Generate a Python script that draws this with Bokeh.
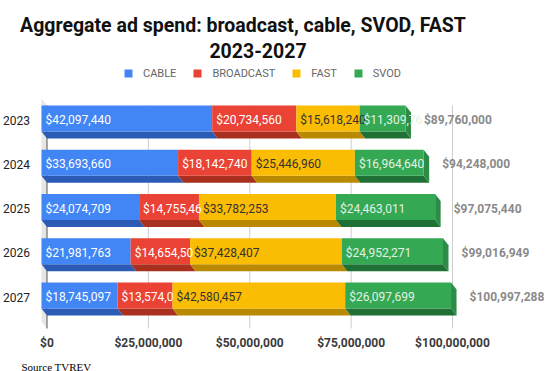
from bokeh.plotting import figure
from bokeh.models import Range1d, Legend, LegendItem, ColumnDataSource
from bokeh.core.properties import value
from bokeh.embed import file_html
from bokeh.resources import INLINE

# ---------------- data ----------------
years = ["2023", "2024", "2025", "2026", "2027"]
series_names = ["CABLE", "BROADCAST", "FAST", "SVOD"]
cable = [42097440, 33693660, 24074709, 21981763, 18745097]
broadcast = [20734560, 18142740, 14755467, 14654508, 13574035]
fast = [15618240, 25446960, 33782253, 37428407, 42580457]
svod = [11309760, 16964640, 24463011, 24952271, 26097699]
totals = [89760000, 94248000, 97075440, 99016949, 100997288]
x_ticks = [0, 25000000, 50000000, 75000000, 100000000]
title_lines = ["Aggregate ad spend: broadcast, cable, SVOD, FAST", "2023-2027"]
source_text = "Source TVREV"

# ---------------- style / layout ----------------
front_col = ["#4285F4", "#EA4335", "#FBBC04", "#34A853"]
bottom_col = ["#2B5BB5", "#A9301F", "#B98A00", "#1F7035"]
side_col = "#2C8C47"
label_col = ["#FFFFFF", "#FFFFFF", "#333333", "#FFFFFF"]
FONT = "Roboto"

W, H = 550, 371             # figure == frame (px)
PXM = 4.055                 # px per million dollars
ZERO_PX = 46.5              # px of $0
X0 = -ZERO_PX / PXM * 1e6
X1 = X0 + W / PXM * 1e6
DXP, DYP = 5.5, 7.0         # 3D depth offset (px)
DX = DXP / PXM * 1e6

ROW0, ROWSTEP, BARH = 105.0, 44.25, 26.0  # front-face top of first row (px, downward)
PLOT_TOP, PLOT_BOT = 98.0, 328.0          # front-top / back-bottom of the plot box


def fx(px):
    return X0 + px / PXM * 1e6


p = figure(width=W, height=H, x_range=Range1d(X0, X1), y_range=Range1d(H, 0),
           output_backend="svg", toolbar_location=None, title=None,
           x_axis_location=None, y_axis_location=None,
           min_border_left=0, min_border_right=0, min_border_top=0, min_border_bottom=0)
p.xgrid.visible = False
p.ygrid.visible = False
p.outline_line_color = None
p.background_fill_color = "white"
p.border_fill_color = "white"

# side wall (3D)
p.patch(x=[-DX, 0, 0, -DX], y=[PLOT_TOP, PLOT_TOP + DYP, PLOT_BOT, PLOT_BOT - DYP],
        fill_color="#E6E6E6", line_color=None)

# gridlines on the back plane
gl_col = ["#555555" if t == 0 else "#CCCCCC" for t in x_ticks]
p.segment(x0=x_ticks, x1=x_ticks, y0=[PLOT_TOP + DYP] * len(x_ticks), y1=[PLOT_BOT] * len(x_ticks),
          line_color=gl_col, line_width=1)

# x tick labels (through the x scale)
p.text(x=x_ticks, y=[342] * len(x_ticks), text=["${:,}".format(t) for t in x_ticks],
       text_font=value(FONT), text_font_size="12px", text_font_style="bold",
       text_color="#3A3A3A", text_align="center", text_baseline="middle")

# stacked bars
series = [cable, broadcast, fast, svod]
n = len(years)
front_top = [ROW0 + ROWSTEP * i for i in range(n)]
front_bot = [t + BARH for t in front_top]
front_mid = [t + BARH / 2 for t in front_top]

starts = [[0] * n]
for s in series[:-1]:
    starts.append([a + b for a, b in zip(starts[-1], s)])
ends = [[a + b for a, b in zip(st, s)] for st, s in zip(starts, series)]


def char_w(c):
    return 2.36 if c == "," else 6.74


def fit_label(v, avail):
    s = "${:,}".format(v)
    out, w = "", 0.0
    for c in s:
        w += char_w(c)
        if w > avail:
            break
        out += c
    return out


for k, s in enumerate(series):
    xs, ys = [], []
    for i in range(n):
        a, b = starts[k][i], ends[k][i]
        xs.append([a - DX, b - DX, b, a])
        ys.append([front_bot[i], front_bot[i], front_bot[i] + DYP, front_bot[i] + DYP])
    p.patches(xs=xs, ys=ys, fill_color=bottom_col[k], line_color=None)

# right side face of the whole bar
sx, sy = [], []
for i in range(n):
    b = ends[-1][i]
    sx.append([b - DX, b, b, b - DX])
    sy.append([front_top[i], front_top[i] + DYP, front_bot[i] + DYP, front_bot[i]])
p.patches(xs=sx, ys=sy, fill_color=side_col, line_color=None)

renderers = []
for k, s in enumerate(series):
    src = ColumnDataSource(dict(y=front_mid, left=[a - DX for a in starts[k]],
                                right=[b - DX for b in ends[k]]))
    r = p.hbar(y="y", height=BARH, left="left", right="right", source=src,
               fill_color=front_col[k], line_color=None)
    renderers.append(r)

# value labels
for k, s in enumerate(series):
    last = k == len(series) - 1
    pad = 14 if last else 3
    labels = [fit_label(v, v / 1e6 * PXM + pad) for v in s]
    p.text(x=starts[k], y=[m + 1.5 for m in front_mid], text=labels, x_offset=-DXP + 4,
           text_font=value(FONT), text_font_size="12px",
           text_color="#E3F2E6" if last else label_col[k],
           text_align="left", text_baseline="middle")

# total labels
p.text(x=totals, y=[m + 1.5 for m in front_mid], text=["${:,}".format(t) for t in totals],
       x_offset=13, text_font=value(FONT), text_font_size="12px", text_font_style="bold",
       text_color="#8A8A8A", text_align="left", text_baseline="middle")

# year labels
p.text(x=[0] * n, y=[m + 1.5 for m in front_mid], text=years, x_offset=-17,
       text_font=value(FONT), text_font_size="12px", text_color="#222222",
       text_align="right", text_baseline="middle")

# title (two lines)
p.text(x=[fx(242.5), fx(257.5)], y=[25, 50], text=title_lines, text_font=value(FONT),
       text_font_size="19.5px", text_font_style="bold", text_color="#111111",
       text_align="center", text_baseline="alphabetic")

# source
p.text(x=[fx(21)], y=[366], text=[source_text], text_font=value("Liberation Serif"),
       text_font_size="11px", text_color="#000000", text_align="left",
       text_baseline="alphabetic")

# legend
legend = Legend(items=[LegendItem(label=nm, renderers=[r]) for nm, r in zip(series_names, renderers)],
                orientation="horizontal", location=(123, H - 79.5),
                glyph_width=10, glyph_height=10, label_height=10, label_standoff=10,
                spacing=16, padding=0, margin=0, border_line_color=None,
                background_fill_alpha=0, label_text_font=FONT, label_text_font_size="11px",
                label_text_color="#666666")
p.add_layout(legend, "center")

open("out.html", "w").write(file_html(p, INLINE))
